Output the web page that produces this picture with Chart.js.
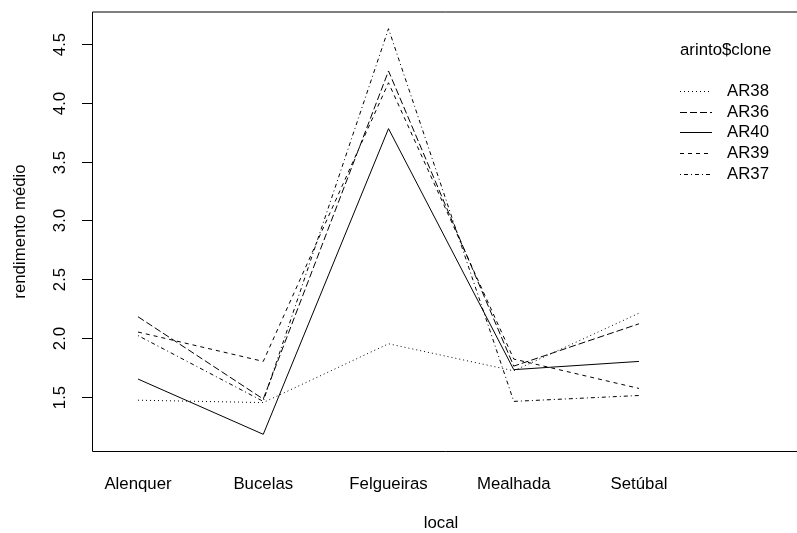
<!DOCTYPE html>
<html>
<head>
<meta charset="utf-8">
<script src="https://cdn.jsdelivr.net/npm/chart.js@4"></script>
<style>
  html, body { margin: 0; padding: 0; background: #fff; }
  #wrap { width: 797px; height: 533px; }
</style>
</head>
<body>
<div id="wrap"><canvas id="chart" width="797" height="533"></canvas></div>
<script>
// local (x factor) and mean yield per clone
const locais = ['Alenquer', 'Bucelas', 'Felgueiras', 'Mealhada', 'Setúbal'];
const clones = ['AR38', 'AR36', 'AR40', 'AR39', 'AR37'];
const ar38 = [1.47, 1.45, 1.95, 1.72, 2.21];
const ar36 = [2.18, 1.48, 4.27, 1.76, 2.12];
const ar40 = [1.65, 1.18, 3.78, 1.73, 1.80];
const ar39 = [2.05, 1.80, 4.17, 1.82, 1.57];
const ar37 = [2.02, 1.46, 4.63, 1.46, 1.51];
const yTicks = [1.5, 2.0, 2.5, 3.0, 3.5, 4.0, 4.5];

const FONT = '16.8px "Liberation Sans", Arial, Helvetica, sans-serif';

// R lty: dotted, longdash, solid, dashed, dotdash
const dashes = [[1, 3], [7, 3], [], [4, 4], [1, 3, 4, 3]];
const series = [ar38, ar36, ar40, ar39, ar37];

const datasets = series.map((vals, i) => ({
  label: clones[i],
  data: vals.map((v, j) => ({ x: j + 1, y: v })),
  borderColor: '#000',
  borderWidth: 1,
  borderDash: dashes[i],
  pointRadius: 0,
  tension: 0,
  fill: false
}));

const rPlot = {
  id: 'rPlot',
  afterDraw(chart) {
    const ctx = chart.ctx;
    const a = chart.chartArea;
    const xs = chart.scales.x, ys = chart.scales.y;
    ctx.save();
    ctx.strokeStyle = '#000';
    ctx.lineWidth = 1;
    ctx.setLineDash([]);
    // box (right side falls outside the picture)
    ctx.beginPath();
    ctx.moveTo(a.right + 5, a.top);
    ctx.lineTo(a.left + 0.5, a.top);
    ctx.lineTo(a.left + 0.5, a.bottom + 0.5);
    ctx.lineTo(a.right + 5, a.bottom + 0.5);
    ctx.stroke();

    ctx.fillStyle = '#000';
    ctx.font = FONT;
    // y ticks and rotated labels
    yTicks.forEach(v => {
      const py = Math.round(ys.getPixelForValue(v)) + 0.5;
      ctx.beginPath();
      ctx.moveTo(a.left - 10, py);
      ctx.lineTo(a.left, py);
      ctx.stroke();
      ctx.save();
      ctx.translate(60, py);
      ctx.rotate(-Math.PI / 2);
      ctx.textAlign = 'center';
      ctx.textBaseline = 'middle';
      ctx.fillText(v.toFixed(1), 0, 0);
      ctx.restore();
    });
    // x labels, no ticks
    ctx.textAlign = 'center';
    ctx.textBaseline = 'middle';
    locais.forEach((l, i) => {
      ctx.fillText(l, xs.getPixelForValue(i + 1), 484);
    });
    ctx.fillText('local', 441, 523);
    ctx.save();
    ctx.translate(20, (a.top + a.bottom) / 2);
    ctx.rotate(-Math.PI / 2);
    ctx.fillText('rendimento médio', 0, 0);
    ctx.restore();

    // legend
    ctx.textAlign = 'left';
    ctx.fillText('arinto$clone', 680, 50);
    const rows = [91, 112, 132, 153, 174];
    chart.data.datasets.forEach((ds, i) => {
      ctx.beginPath();
      ctx.setLineDash(ds.borderDash);
      ctx.moveTo(680, rows[i] + 0.5);
      ctx.lineTo(712, rows[i] + 0.5);
      ctx.stroke();
      ctx.fillText(ds.label, 727, rows[i]);
    });
    ctx.restore();
  }
};

new Chart(document.getElementById('chart'), {
  type: 'line',
  data: { datasets },
  options: {
    responsive: false,
    animation: false,
    layout: { padding: { left: 92, top: 12, right: 0, bottom: 82 } },
    plugins: { legend: { display: false }, tooltip: { enabled: false } },
    scales: {
      x: { type: 'linear', min: 0.6327, max: 6.2615, display: false },
      y: { type: 'linear', min: 1.038, max: 4.772, display: false }
    }
  },
  plugins: [rPlot]
});
</script>
</body>
</html>
